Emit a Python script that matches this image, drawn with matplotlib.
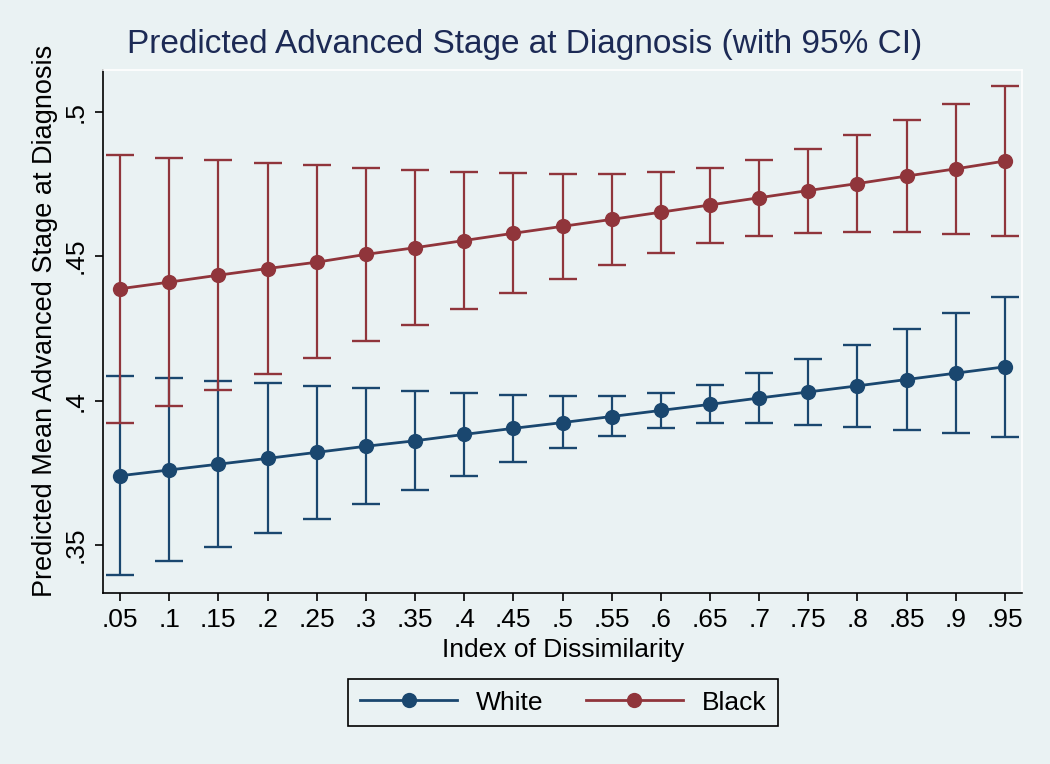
import matplotlib
matplotlib.use("Agg")
import matplotlib.pyplot as plt
from matplotlib.lines import Line2D
import numpy as np

# ---- data ----
dissimilarity = [0.05, 0.10, 0.15, 0.20, 0.25, 0.30, 0.35, 0.40, 0.45, 0.50,
                 0.55, 0.60, 0.65, 0.70, 0.75, 0.80, 0.85, 0.90, 0.95]
x_tick_labels = [".05", ".1", ".15", ".2", ".25", ".3", ".35", ".4", ".45", ".5",
                 ".55", ".6", ".65", ".7", ".75", ".8", ".85", ".9", ".95"]
y_ticks = [0.35, 0.40, 0.45, 0.50]
y_tick_labels = [".35", ".4", ".45", ".5"]

white_mean = [0.3740, 0.3760, 0.3780, 0.3800, 0.3821, 0.3842, 0.3861, 0.3883, 0.3904, 0.3924,
              0.3945, 0.3966, 0.3987, 0.4009, 0.4030, 0.4051, 0.4073, 0.4095, 0.4117]
white_lo = [0.3395, 0.3444, 0.3493, 0.3542, 0.3592, 0.3641, 0.3691, 0.3739, 0.3788, 0.3835,
            0.3876, 0.3906, 0.3921, 0.3921, 0.3915, 0.3907, 0.3898, 0.3888, 0.3875]
white_hi = [0.4086, 0.4077, 0.4069, 0.4060, 0.4050, 0.4042, 0.4032, 0.4025, 0.4019, 0.4015,
            0.4015, 0.4025, 0.4055, 0.4095, 0.4145, 0.4194, 0.4248, 0.4302, 0.4358]

black_mean = [0.4387, 0.4410, 0.4434, 0.4457, 0.4479, 0.4506, 0.4529, 0.4554, 0.4579, 0.4603,
              0.4627, 0.4652, 0.4677, 0.4702, 0.4727, 0.4751, 0.4777, 0.4802, 0.4829]
black_lo = [0.3923, 0.3980, 0.4036, 0.4093, 0.4148, 0.4206, 0.4261, 0.4316, 0.4371, 0.4422,
            0.4470, 0.4512, 0.4546, 0.4569, 0.4581, 0.4585, 0.4583, 0.4577, 0.4569]
black_hi = [0.4849, 0.4840, 0.4831, 0.4822, 0.4815, 0.4806, 0.4798, 0.4791, 0.4786, 0.4783,
            0.4784, 0.4791, 0.4806, 0.4833, 0.4871, 0.4918, 0.4971, 0.5027, 0.5088]

series = [("White", white_mean, white_lo, white_hi, "#1a476f"),
          ("Black", black_mean, black_lo, black_hi, "#90353b")]

BG = "#eaf2f3"
FS = 19
plt.rcParams['font.family'] = ['Liberation Sans', 'DejaVu Sans']

fig = plt.figure(figsize=(10.5, 7.64), dpi=100, facecolor=BG)
W, H = 1050, 764
left, right, top, bottom = 103, 1022, 70, 592.5
ax = fig.add_axes([left / W, 1 - bottom / H, (right - left) / W, (bottom - top) / H])
ax.set_facecolor(BG)

handles = []
for name, m, lo, hi, col in series:
    m = np.array(m); lo = np.array(lo); hi = np.array(hi)
    ax.errorbar(dissimilarity, m, yerr=[m - lo, hi - m], fmt='none', ecolor=col,
                elinewidth=1.6, capsize=10, capthick=1.7, zorder=2)
    ax.plot(dissimilarity, m, color=col, lw=2.0, marker='o', markersize=11,
            markeredgewidth=0, zorder=3)
    handles.append(Line2D([], [], color=col, lw=2.0, marker='o', markersize=11,
                          markeredgewidth=0))

ax.set_xlim(0.0327, 0.9673)
ax.set_ylim(0.3336, 0.5144)
ax.set_xticks(dissimilarity)
ax.set_xticklabels(x_tick_labels)
ax.set_yticks(y_ticks)
ax.set_yticklabels(y_tick_labels, rotation=90, va='center')
ax.tick_params(axis='both', labelsize=FS, length=6, width=1.2, color='black', pad=5)
for s in ['left', 'bottom']:
    ax.spines[s].set_color('black')
    ax.spines[s].set_linewidth(1.2)
for s in ['top', 'right']:
    ax.spines[s].set_color('white')
    ax.spines[s].set_linewidth(1.2)

fig.text(0.5, 1 - 45 / H, "Predicted Advanced Stage at Diagnosis (with 95% CI)",
         ha='center', va='center', fontsize=24, color='#1c2a55')
fig.text(45 / W, 1 - 321 / H, "Predicted Mean Advanced Stage at Diagnosis",
         rotation=90, ha='center', va='center', fontsize=FS + 0.5, color='black')
fig.text(563 / W, 1 - 650 / H, "Index of Dissimilarity",
         ha='center', va='center', fontsize=FS, color='black')

leg = fig.legend(handles, ["White", "Black"], loc='center', ncol=2,
                 bbox_to_anchor=(563 / W, 1 - 702.5 / H), fontsize=FS,
                 frameon=True, fancybox=False, edgecolor='black', facecolor=BG,
                 handlelength=3.7, handletextpad=0.7, columnspacing=1.6,
                 borderpad=0.45)
leg.get_frame().set_linewidth(1.2)
leg.get_frame().set_alpha(1)

fig.savefig("out.png", dpi=100, facecolor=BG)
